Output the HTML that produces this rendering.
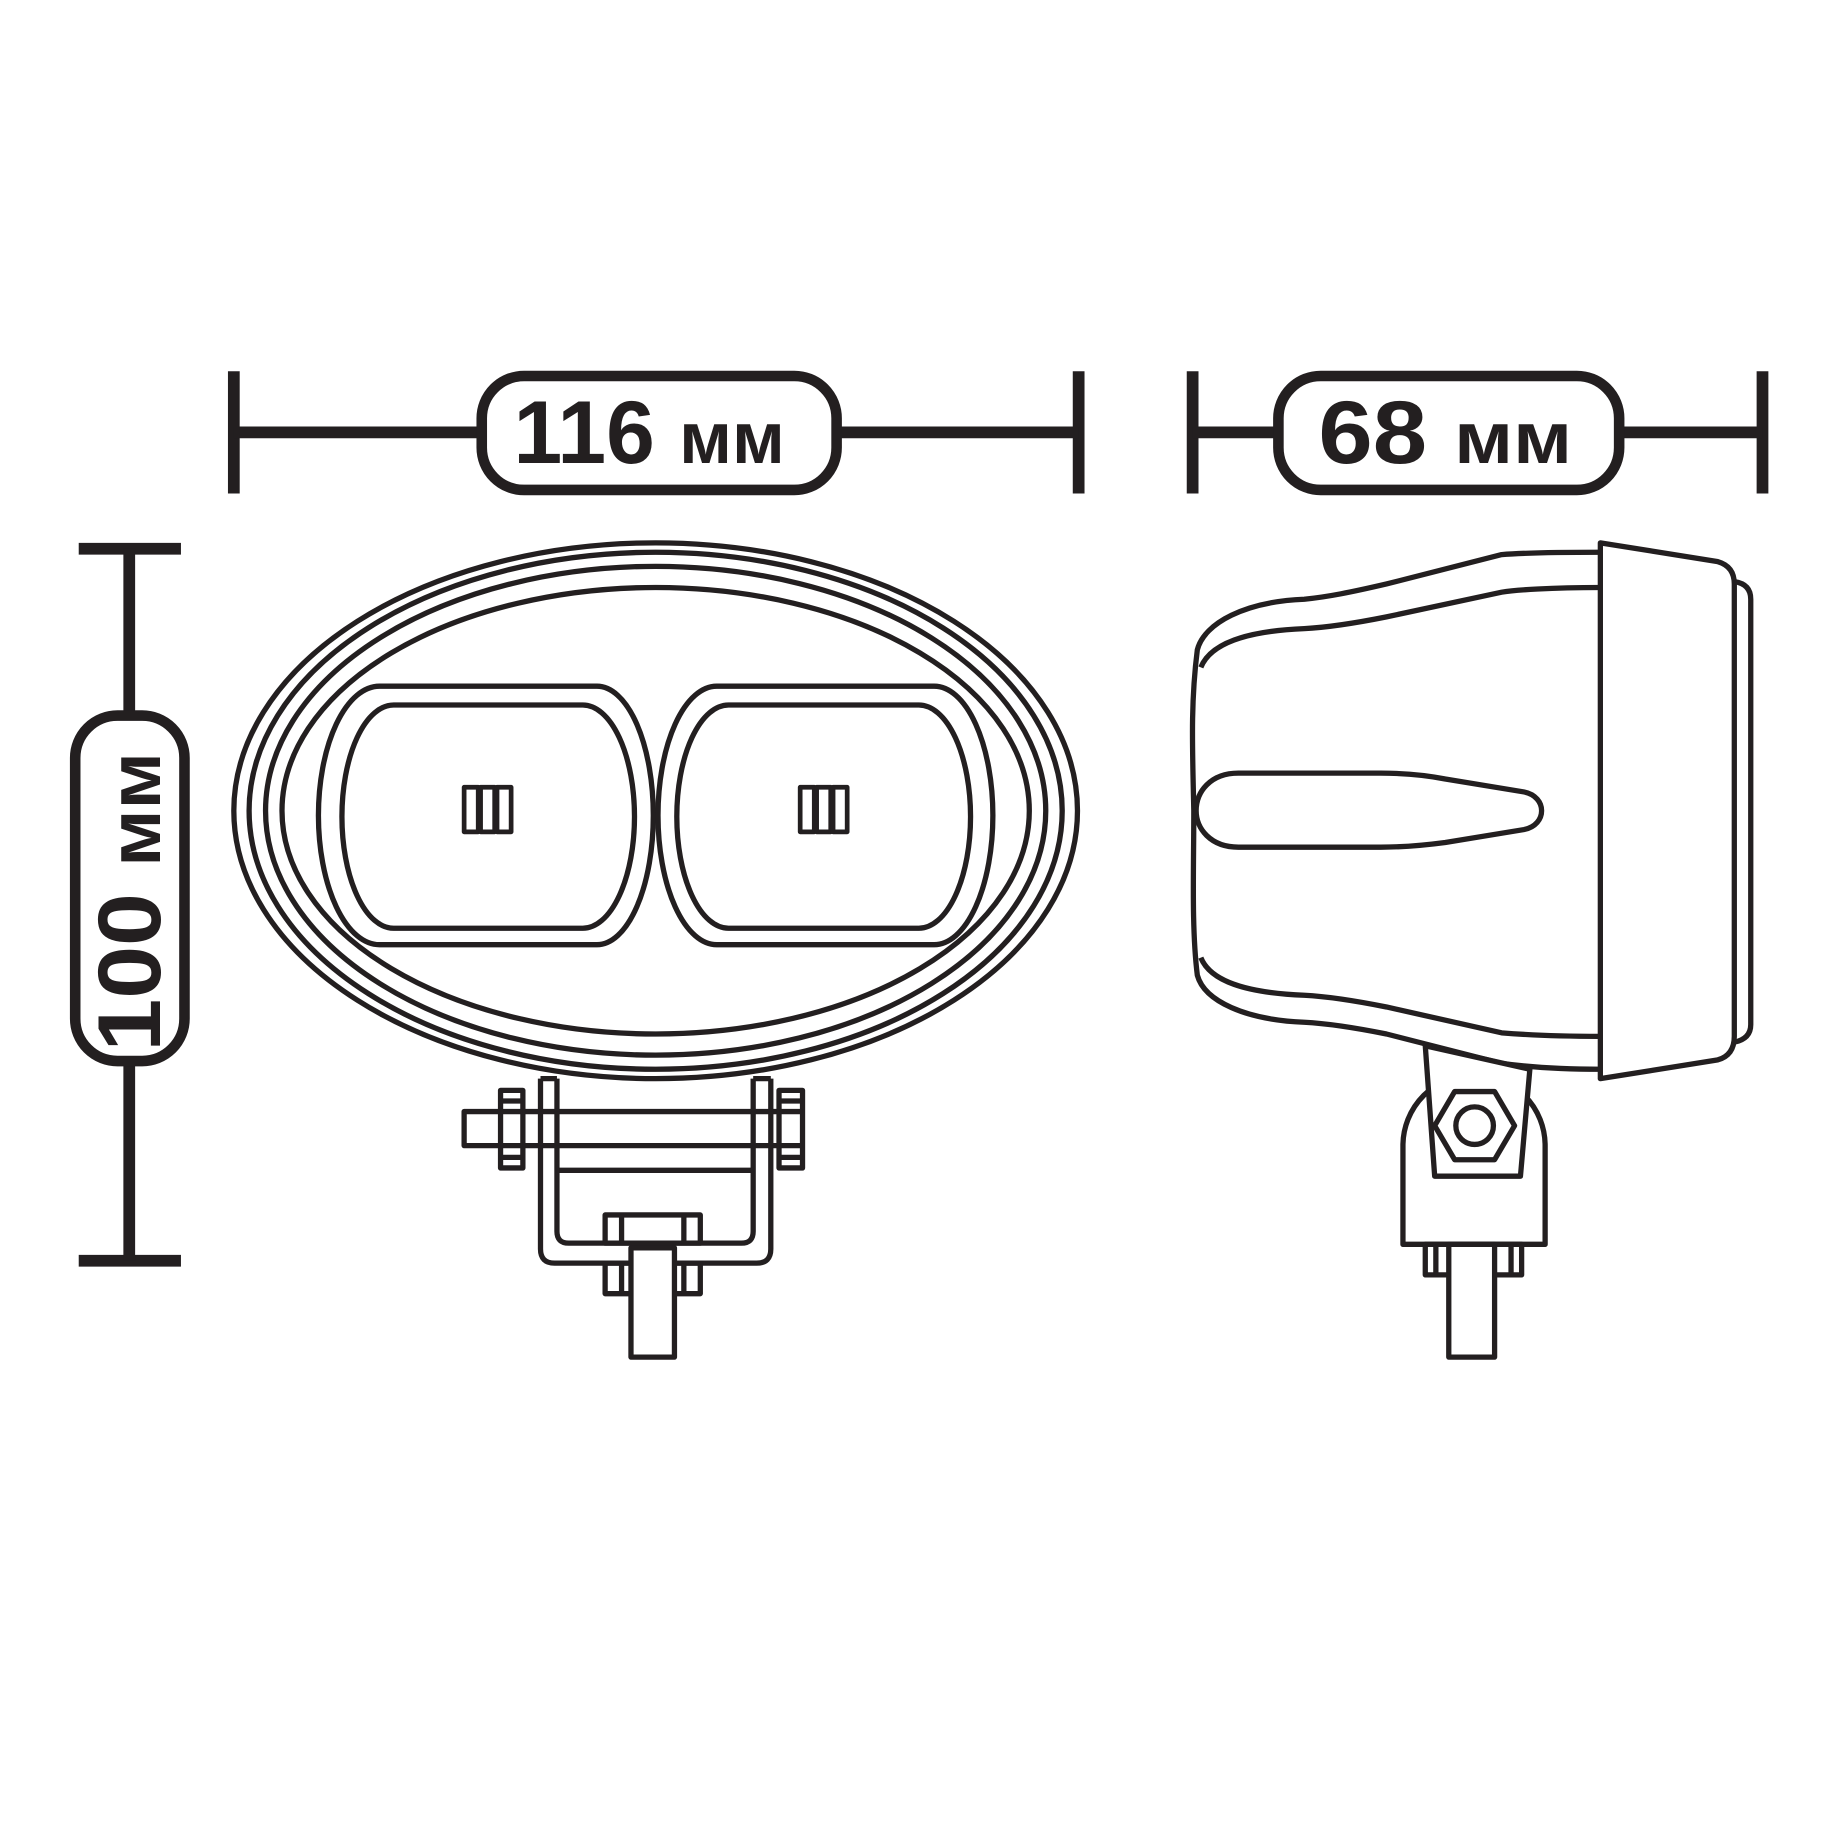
<!DOCTYPE html>
<html><head><meta charset="utf-8"><style>
html,body{margin:0;padding:0;background:#fff}
svg{display:block}
text{font-family:"Liberation Sans",sans-serif;font-weight:bold;fill:#231f20}
</style></head><body>
<svg width="1833" height="1833" viewBox="0 0 1560 1560" xmlns="http://www.w3.org/2000/svg">
<g stroke="#231f20" fill="none">
<g stroke-width="10">
<line x1="199" y1="316" x2="199" y2="420"/><line x1="918" y1="316" x2="918" y2="420"/>
<line x1="1015" y1="316" x2="1015" y2="420"/><line x1="1500" y1="316" x2="1500" y2="420"/>
<line x1="67" y1="467" x2="154" y2="467"/><line x1="67" y1="1073" x2="154" y2="1073"/>
<line x1="199" y1="368" x2="918" y2="368"/>
<line x1="1015" y1="368" x2="1500" y2="368"/>
<line x1="110" y1="467" x2="110" y2="1073"/>
</g>
<g stroke-width="9" fill="#fff">
<rect x="410" y="320" width="302" height="97" rx="36"/>
<rect x="1088" y="320" width="290" height="97" rx="36"/>
<rect x="64" y="609" width="93" height="294" rx="36"/>
</g>
</g>
<text x="437" y="394" font-size="76" textLength="231" lengthAdjust="spacingAndGlyphs">116 <tspan font-size="62">мм</tspan></text>
<text x="1122" y="394" font-size="76" textLength="216" lengthAdjust="spacingAndGlyphs">68 <tspan font-size="62">мм</tspan></text>
<text transform="translate(136,895) rotate(-90)" font-size="76" textLength="255" lengthAdjust="spacingAndGlyphs">100 <tspan font-size="62">мм</tspan></text>

<g stroke="#231f20" fill="none" stroke-width="4.5" stroke-linejoin="round">
<ellipse cx="558" cy="690" rx="359" ry="228"/>
<ellipse cx="558" cy="690" rx="346" ry="220"/>
<ellipse cx="558" cy="690" rx="332" ry="208"/>
<ellipse cx="558" cy="690" rx="318" ry="190"/>
<path d="M323,584 H508 A48,110 0 0 1 508,804 H323 A52,110 0 0 1 323,584 Z" fill="#fff"/>
<path d="M335,600 H496 A44,95 0 0 1 496,790 H335 A44,95 0 0 1 335,600 Z"/>
<path d="M610,584 H795 A50,110 0 0 1 795,804 H610 A50,110 0 0 1 610,584 Z" fill="#fff"/>
<path d="M620,600 H782 A44,95 0 0 1 782,790 H620 A44,95 0 0 1 620,600 Z"/>
<g stroke-width="4">
<rect x="395" y="670" width="12" height="38"/><rect x="409" y="670" width="12" height="38"/><rect x="423" y="670" width="12" height="38"/>
<rect x="681" y="670" width="12" height="38"/><rect x="695" y="670" width="12" height="38"/><rect x="709" y="670" width="12" height="38"/>
</g>
<path d="M460,918 V1063 Q460,1075 472,1075 H644 Q656,1075 656,1063 V918"/>
<path d="M474,918 V1048 Q474,1058 484,1058 H631 Q641,1058 641,1048 V918"/>
<line x1="460" y1="918" x2="474" y2="918"/><line x1="641" y1="918" x2="656" y2="918"/>
<rect x="395" y="946" width="285" height="29" fill="#fff"/>
<line x1="474" y1="996" x2="641" y2="996"/>
<line x1="460" y1="946" x2="460" y2="975"/><line x1="474" y1="946" x2="474" y2="975"/>
<line x1="641" y1="946" x2="641" y2="975"/><line x1="656" y1="946" x2="656" y2="975"/>
<rect x="426" y="928" width="19" height="66" fill="#fff"/>
<line x1="426" y1="937" x2="445" y2="937"/><line x1="426" y1="985" x2="445" y2="985"/>
<rect x="663" y="928" width="20" height="66" fill="#fff"/>
<line x1="663" y1="937" x2="683" y2="937"/><line x1="663" y1="985" x2="683" y2="985"/>
<line x1="426" y1="946" x2="445" y2="946"/><line x1="426" y1="975" x2="445" y2="975"/>
<line x1="663" y1="946" x2="683" y2="946"/><line x1="663" y1="975" x2="683" y2="975"/>
<rect x="515" y="1034" width="81" height="24" fill="#fff"/>
<line x1="529" y1="1034" x2="529" y2="1058"/><line x1="582" y1="1034" x2="582" y2="1058"/>
<rect x="515" y="1075" width="81" height="26"/>
<line x1="529" y1="1075" x2="529" y2="1101"/><line x1="582" y1="1075" x2="582" y2="1101"/>
<rect x="537" y="1062" width="37" height="93" fill="#fff"/>

<path d="M1362,470 C1320,470 1290,471 1278,472 L1180,497 C1150,504 1130,508 1110,510 C1060,512 1025,530 1019,553 C1013,600 1015,640 1016,690 C1016,740 1014,790 1019,830 C1025,852 1060,868 1110,870 C1130,871 1150,874 1180,880 L1278,905 C1300,908 1330,910 1362,910"/>
<path d="M1362,500 C1320,500 1290,502 1278,504 L1180,525 C1150,531 1130,534 1110,535 C1060,537 1030,548 1022,568"/>
<path d="M1362,882 C1320,882 1290,880 1278,879 L1180,857 C1150,851 1130,848 1110,847 C1060,845 1030,835 1022,815"/>
<path d="M1362,462 L1462,478 Q1476,482 1476,497 V882 Q1476,898 1462,902 L1362,918 Z" fill="#fff"/>
<path d="M1476,495 Q1490,497 1490,510 V872 Q1490,884 1476,887"/>
<path d="M1054,658 H1175 C1195,658 1215,660 1230,663 L1297,674 C1317,678 1317,702 1297,706 L1230,717 C1215,719 1195,721 1175,721 H1054 C1030,721 1018,705 1018,690 C1018,674 1030,658 1054,658 Z"/>
<path d="M1194,1059 V975 A60.5,60.5 0 0 1 1315,975 V1059 Z" fill="#fff"/>
<path d="M1213,890 L1302,910 L1294,1001 H1221 Z" fill="#fff"/>
<polygon points="1289,958 1272,987 1238,987 1221,958 1238,929 1272,929"/>
<circle cx="1255" cy="958" r="16"/>
<rect x="1213" y="1059" width="82" height="26"/>
<line x1="1222" y1="1059" x2="1222" y2="1085"/><line x1="1286" y1="1059" x2="1286" y2="1085"/>
<rect x="1233" y="1059" width="39" height="96" fill="#fff"/>
</g>
</svg>
</body></html>
